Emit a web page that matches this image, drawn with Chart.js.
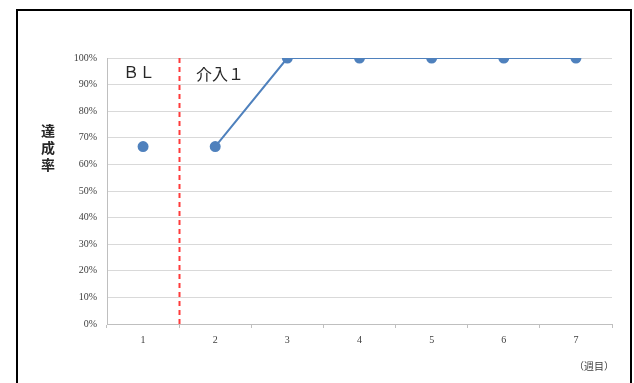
<!DOCTYPE html>
<html>
<head>
<meta charset="utf-8">
<script src="https://cdn.jsdelivr.net/npm/chart.js@4"></script>
<style>
  html, body { margin: 0; padding: 0; background: #fff; }
  #wrap { width: 634px; height: 383px; position: relative; }
</style>
</head>
<body>
<div id="wrap"><canvas id="c"></canvas></div>
<script>
// Weekly achievement rate (%)
const weeks = ['1', '2', '3', '4', '5', '6', '7'];
const baselineRate = [66.7, null, null, null, null, null, null];
const interventionRate = [null, 66.7, 100, 100, 100, 100, 100];
const yTicks = [0, 10, 20, 30, 40, 50, 60, 70, 80, 90, 100];

const phaseLabels = ['ＢＬ', '介入１'];
const yTitle = ['達', '成', '率'];
const xUnit = '（週目）';

const BLUE = '#4f81bd';
const JP_FONT = '"Noto Sans CJK JP", sans-serif';

const annotations = {
  id: 'annotations',
  afterDraw(chart) {
    const { ctx, scales: { x, y } } = chart;
    ctx.save();
    // phase change line between week 1 and week 2
    const px = Math.round(x.getPixelForValue(0.5)) + 0.5;
    ctx.strokeStyle = '#ff3b3b';
    ctx.lineWidth = 2;
    ctx.setLineDash([5, 4]);
    ctx.beginPath();
    ctx.moveTo(px, y.getPixelForValue(100));
    ctx.lineTo(px, y.getPixelForValue(0) + 4);
    ctx.stroke();
    ctx.setLineDash([]);

    // phase names
    ctx.fillStyle = '#262626';
    ctx.font = '16px ' + JP_FONT;
    ctx.textBaseline = 'middle';
    ctx.textAlign = 'left';
    ctx.fillText(phaseLabels[0], 123, 72);
    ctx.fillText(phaseLabels[1], 196, 74);

    // vertical axis title
    ctx.font = 'bold 14px ' + JP_FONT;
    ctx.textAlign = 'center';
    yTitle.forEach((ch, i) => ctx.fillText(ch, 48, 131 + i * 17));

    // x unit
    ctx.font = '10px ' + JP_FONT;
    ctx.fillStyle = '#404040';
    ctx.textAlign = 'left';
    ctx.fillText(xUnit, 574, 366);

    // outer frame
    ctx.strokeStyle = '#000';
    ctx.lineWidth = 2;
    ctx.strokeRect(17, 10, 614, 400);
    ctx.restore();
  }
};

new Chart(document.getElementById('c'), {
  type: 'line',
  data: {
    labels: weeks,
    datasets: [
      {
        data: baselineRate,
        borderColor: BLUE,
        backgroundColor: BLUE,
        borderWidth: 2,
        pointRadius: 4.5,
        pointHoverRadius: 4.5,
        showLine: false
      },
      {
        data: interventionRate,
        borderColor: BLUE,
        backgroundColor: BLUE,
        borderWidth: 2,
        pointRadius: 4.5,
        pointHoverRadius: 4.5,
        tension: 0
      }
    ]
  },
  options: {
    responsive: true,
    maintainAspectRatio: false,
    animation: false,
    events: [],
    layout: { padding: { left: 0, right: 22, top: 58, bottom: 0 } },
    plugins: { legend: { display: false }, tooltip: { enabled: false } },
    scales: {
      x: {
        offset: true,
        grid: { offset: true, drawOnChartArea: false, drawTicks: true, tickLength: 4, color: '#bfbfbf' },
        border: { color: '#bfbfbf' },
        ticks: {
          color: '#404040',
          font: { family: '"Liberation Serif", serif', size: 10 },
          padding: 6
        },
        afterFit(s) { s.height = 59; }
      },
      y: {
        min: 0,
        max: 100,
        afterBuildTicks(s) { s.ticks = yTicks.map(v => ({ value: v })); },
        grid: { color: '#d9d9d9', drawTicks: false },
        border: { color: '#bfbfbf' },
        ticks: {
          color: '#404040',
          font: { family: '"Liberation Serif", serif', size: 10 },
          padding: 10,
          callback: v => v + '%'
        },
        afterFit(s) { s.width = 107; }
      }
    }
  },
  plugins: [annotations]
});
</script>
</body>
</html>
